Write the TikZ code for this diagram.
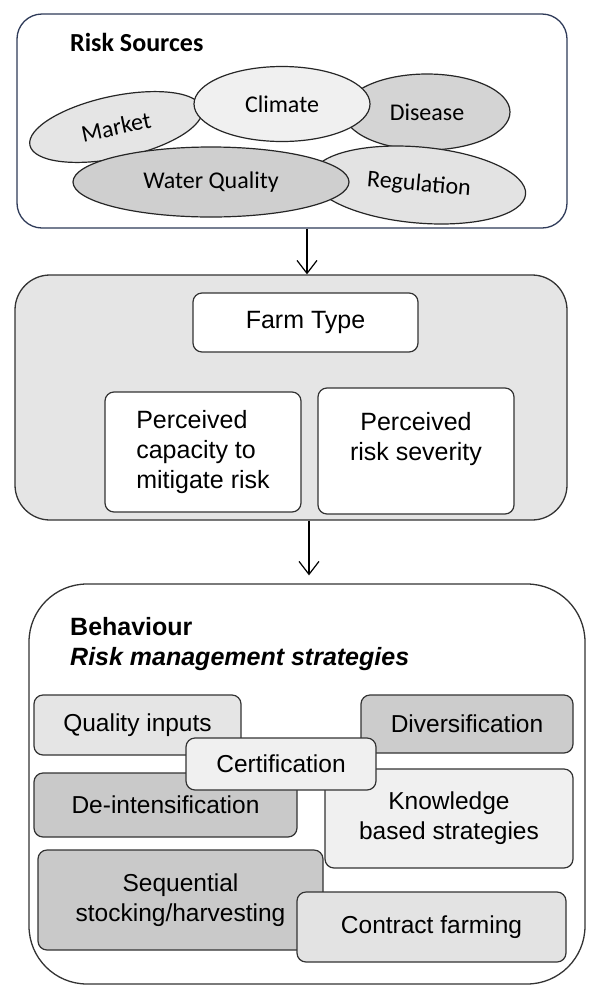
\documentclass[tikz,border=0pt]{standalone}
\usepackage{fontspec}
\setmainfont{Liberation Sans}
\newfontfamily\calfont{Carlito}
\usetikzlibrary{arrows.meta,shapes.geometric}
\definecolor{navyline}{HTML}{2E3A58}
\begin{document}
\begin{tikzpicture}[x=1pt,y=-1pt,
  panel/.style={draw=black!80, line width=1.3pt, rounded corners=#1, inner sep=0pt},
  ell/.style={ellipse, draw=black!85, line width=1.2pt, inner sep=0pt, font=\calfont\fontsize{24}{28}\selectfont},
  sbox/.style={draw=black!80, line width=1.2pt, rounded corners=9pt, inner sep=0pt, align=center, font=\fontsize{24.5}{30}\selectfont},
  arr/.style={-{Straight Barb[length=13pt,width=20pt]}, line width=1.2pt},
  heading/.style={anchor=west, inner sep=0pt, font=\bfseries\fontsize{25}{30}\selectfont}
]
\useasboundingbox (0,0) rectangle (590,986);
% ---------- Risk sources ----------
\node[panel=25pt, draw=navyline, fill=white, minimum width=550pt, minimum height=214pt] (src) at (292,121) {};
\node[heading, font=\calfont\bfseries\fontsize{26}{30}\selectfont] (srct) at (70,42) {Risk Sources};
\node[ell, fill=black!10, minimum width=176pt, minimum height=62pt, rotate=12] (market) at (116,127) {Market};
\node[ell, fill=black!17, minimum width=166pt, minimum height=76pt] (disease) at (427,112) {Disease};
\node[ell, fill=black!11, minimum width=214pt, minimum height=76pt, rotate=-5] (regul) at (419,185) {Regulation};
\node[ell, fill=black!6, minimum width=176pt, minimum height=75pt] (climate) at (282,104) {Climate};
\node[ell, fill=black!19, minimum width=276pt, minimum height=70pt] (water) at (211,182) {Water Quality};
% ---------- Middle ----------
\node[panel=35pt, fill=black!10, minimum width=552pt, minimum height=245pt] (mid) at (291,397.5) {};
\node[sbox, fill=white, minimum width=225pt, minimum height=59pt, font=\fontsize{25}{30}\selectfont] (farm) at (305.5,322.5) {Farm Type};
\node[sbox, fill=white, minimum width=196pt, minimum height=120pt, align=left, font=\fontsize{25}{30}\selectfont] (cap) at (203,452) {Perceived\\capacity to\\mitigate risk};
\node[sbox, fill=white, minimum width=196pt, minimum height=126pt, font=\fontsize{25}{30}\selectfont] (sev) at (416,451) {Perceived\\risk severity\\~};
% ---------- Behaviour ----------
\node[panel=58pt, fill=white, minimum width=556pt, minimum height=400pt] (beh) at (307,784) {};
\node[heading] (beht) at (70,627) {Behaviour};
\node[heading, font=\bfseries\itshape\fontsize{25}{30}\selectfont] (rms) at (70,659) {Risk management strategies};
\node[sbox, fill=black!10, minimum width=207pt, minimum height=60pt] (qual) at (137.5,725) {Quality inputs};
\node[sbox, fill=black!20, minimum width=212pt, minimum height=58pt] (div) at (467,724) {Diversification};
\node[sbox, fill=black!21, minimum width=263pt, minimum height=64pt] (deint) at (165.5,805) {De-intensification};
\node[sbox, fill=black!6, minimum width=248pt, minimum height=99pt] (know) at (449,818.5) {Knowledge\\based strategies};
\node[sbox, fill=black!6, minimum width=190pt, minimum height=52pt] (cert) at (281,764) {Certification};
\node[sbox, fill=black!21, minimum width=285pt, minimum height=100pt] (seq) at (180.5,900) {Sequential\\stocking/harvesting};
\node[sbox, fill=black!11, minimum width=269pt, minimum height=70pt] (contr) at (431.5,927) {Contract farming};
% ---------- Arrows ----------
\draw[arr] ([xshift=15pt]src.south) -- ([xshift=16pt]mid.north);
\draw[arr, shorten >=8pt] ([xshift=18pt]mid.south) -- ([xshift=2pt]beh.north);
\end{tikzpicture}
\end{document}
